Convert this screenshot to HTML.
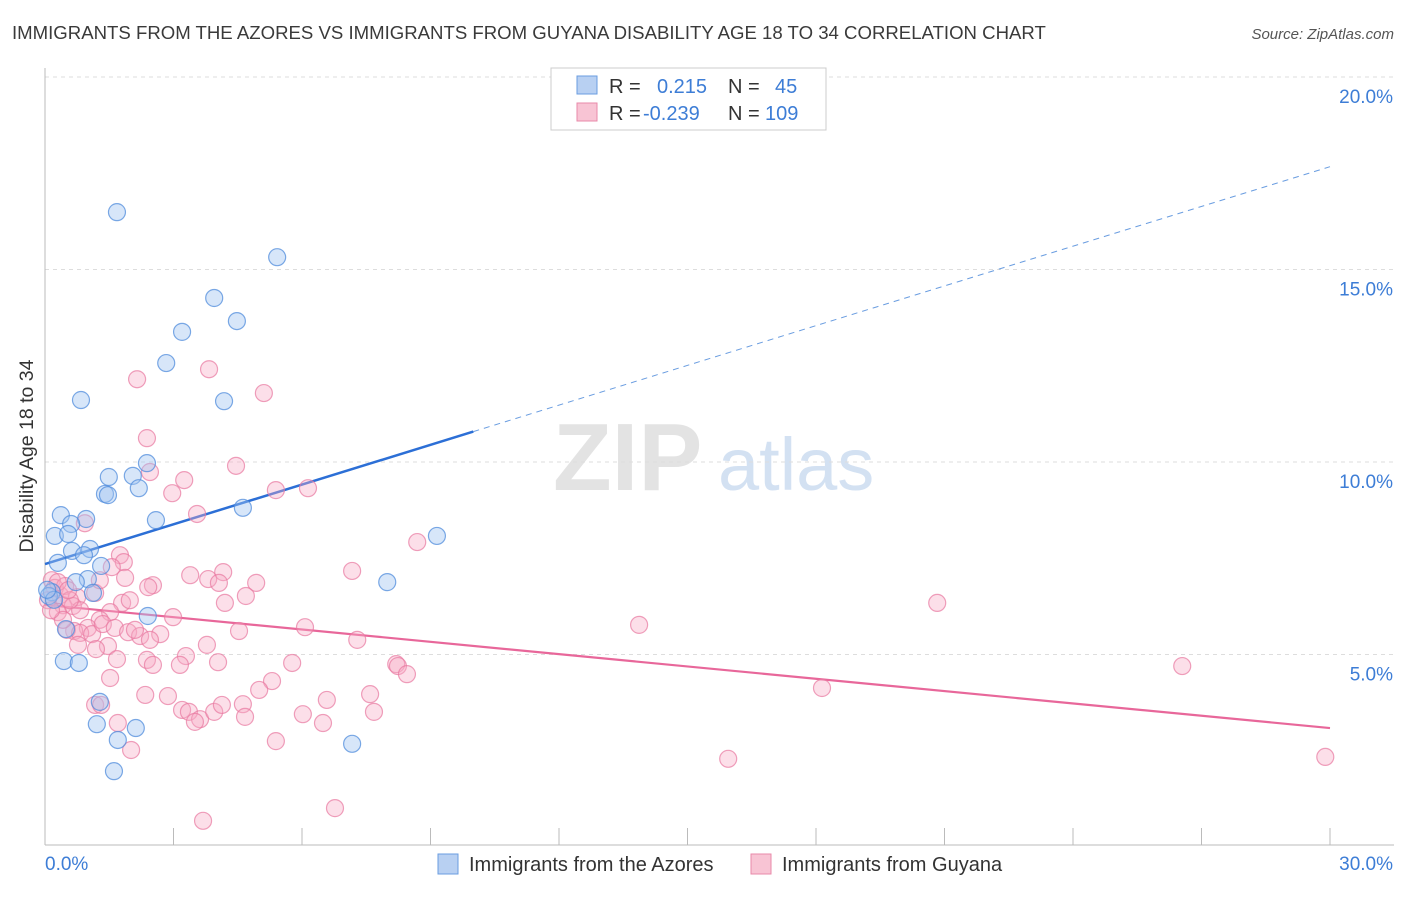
<!DOCTYPE html>
<html><head><meta charset="utf-8"><style>
body{margin:0;background:#fff;font-family:"Liberation Sans",sans-serif}
svg text{font-family:"Liberation Sans",sans-serif}
</style></head><body>
<svg id="chart" width="1406" height="892" xmlns="http://www.w3.org/2000/svg">
<text x="12" y="39" font-size="18.6" fill="#3a3a3a">IMMIGRANTS FROM THE AZORES VS IMMIGRANTS FROM GUYANA DISABILITY AGE 18 TO 34 CORRELATION CHART</text>
<text x="1394" y="39" font-size="15" fill="#555" font-style="italic" text-anchor="end">Source: ZipAtlas.com</text>
<g>
<text x="553" y="490" font-size="96" fill="#ddd" font-family="Liberation Serif" font-weight="bold" opacity="0.8">ZIP</text>
<text x="718" y="490" font-size="74" fill="#c9daf0" opacity="0.8">atlas</text>
</g>
<g id="grid"></g><g id="axes"></g><g id="lines"></g><g id="pts"></g>
<g>
<rect x="551" y="68" width="275" height="62" fill="#fff" stroke="#ccc"/>
<rect x="577" y="76" width="20" height="18" fill="#b8d0f2" stroke="#6a9de0"/>
<rect x="577" y="103" width="20" height="18" fill="#f8c4d4" stroke="#e88aaa"/>
<text x="609" y="93" font-size="20" fill="#333">R =</text>
<text x="657" y="93" font-size="20" fill="#3d7dd6">0.215</text>
<text x="728" y="93" font-size="20" fill="#333">N =</text>
<text x="775" y="93" font-size="20" fill="#3d7dd6">45</text>
<text x="609" y="120" font-size="20" fill="#333">R =</text>
<text x="643" y="120" font-size="20" fill="#3d7dd6">-0.239</text>
<text x="728" y="120" font-size="20" fill="#333">N =</text>
<text x="765" y="120" font-size="20" fill="#3d7dd6">109</text>
</g>
<g>
<rect x="438" y="854" width="20" height="20" fill="#b8d0f2" stroke="#6a9de0"/>
<text x="469" y="871" font-size="20" fill="#333">Immigrants from the Azores</text>
<rect x="751" y="854" width="20" height="20" fill="#f8c4d4" stroke="#e88aaa"/>
<text x="782" y="871" font-size="20" fill="#333">Immigrants from Guyana</text>
</g>
<text transform="translate(33,456) rotate(-90)" font-size="19.5" fill="#333" text-anchor="middle">Disability Age 18 to 34</text>
</svg>
<script>
const azoresX=[1.68,5.42,3.95,3.20,4.48,2.83,0.84,4.18,2.38,1.49,2.05,2.19,1.40,1.47,2.59,4.62,0.37,0.96,0.61,0.23,0.54,1.05,0.63,0.91,0.30,1.31,1.00,0.72,7.99,9.15,1.12,0.16,0.09,0.21,2.40,0.49,0.44,0.79,1.28,1.21,2.12,1.70,7.17,1.61,0.05];
const azoresY=[16.49,15.32,14.26,13.38,13.66,12.57,11.61,11.58,9.97,9.61,9.64,9.32,9.17,9.14,8.49,8.81,8.62,8.52,8.39,8.08,8.13,7.74,7.69,7.58,7.38,7.30,6.96,6.88,6.88,8.08,6.60,6.62,6.52,6.42,6.00,5.66,4.83,4.78,3.77,3.19,3.09,2.78,2.68,1.97,6.68];
const guyanaX=[2.15,3.83,5.11,2.38,4.46,2.45,3.25,2.97,5.39,6.14,3.55,0.93,8.69,1.75,1.84,1.56,1.87,7.17,3.39,2.52,3.81,4.16,4.06,4.93,2.41,4.69,1.80,4.20,1.17,0.75,0.35,0.16,0.23,0.47,0.07,0.42,0.65,0.30,0.82,1.52,1.28,1.00,0.68,0.51,0.82,1.10,1.35,1.63,1.94,2.22,2.99,1.47,0.77,1.68,1.19,2.38,3.29,3.78,4.53,6.07,7.29,13.87,20.83,1.52,3.15,4.04,5.77,8.20,8.24,8.45,5.30,5.00,2.34,2.87,1.17,1.31,3.20,3.36,3.62,3.50,3.95,4.13,4.62,4.67,6.02,6.58,6.49,7.59,7.68,1.70,2.01,5.39,15.95,18.14,26.55,29.89,6.77,3.69,2.52,2.10,2.69,0.42,0.30,0.58,1.28,1.98,0.14,0.54,2.45];
const guyanaY=[12.15,12.41,11.79,10.62,9.90,9.74,9.53,9.19,9.27,9.32,8.65,8.41,7.92,7.58,7.40,7.27,6.99,7.17,7.06,6.80,6.96,7.14,6.86,6.86,6.75,6.52,6.34,6.34,6.60,6.49,6.54,6.93,6.73,6.78,6.41,6.28,6.26,6.10,6.15,6.10,5.90,5.69,5.61,5.64,5.56,5.53,5.79,5.69,5.58,5.48,5.97,5.22,5.25,4.88,5.14,4.86,4.96,5.25,5.61,5.71,5.38,5.77,6.34,4.39,4.73,4.80,4.78,4.75,4.70,4.49,4.31,4.08,3.95,3.92,3.69,3.69,3.56,3.51,3.32,3.25,3.51,3.69,3.71,3.38,3.45,3.82,3.22,3.97,3.51,3.22,2.52,2.75,2.29,4.13,4.70,2.34,1.01,0.68,4.73,5.64,5.53,5.90,6.88,6.41,6.93,6.41,6.15,6.67,5.38];
const yTicks=[5,10,15,20];
const yTickLabels=["5.0%","10.0%","15.0%","20.0%"];
const azoresTrend=[7.35,0.344];
const guyanaTrend=[6.29,-0.1067];
const NS="http://www.w3.org/2000/svg";
const X=v=>45+v*1285/30, Y=v=>847-v*38.5;
function mk(tag,attrs,parent){const e=document.createElementNS(NS,tag);for(const k in attrs)e.setAttribute(k,attrs[k]);document.getElementById(parent).appendChild(e);return e;}
yTicks.forEach((t,i)=>{
 const g=mk('line',{x1:45,x2:1394,y1:Y(t),y2:Y(t),stroke:'#ddd','stroke-dasharray':'4,4'},'grid');
 
 
 const l=mk('text',{x:1393,y:Y(t)+26,'font-size':19,fill:'#3d7dd6','text-anchor':'end'},'grid');
 l.textContent=yTickLabels[i];
 
 
});
const ax=mk('line',{x1:45,x2:45,y1:68,y2:845,stroke:'#bbb'},'axes');


const bx=mk('line',{x1:45,x2:1394,y1:845,y2:845,stroke:'#bbb'},'axes');


for(let i=0;i<=10;i++){const t=mk('line',{x1:X(i*3),x2:X(i*3),y1:828,y2:845,stroke:'#bbb'},'axes');
 
 }
const x0=mk('text',{x:45,y:870,'font-size':19,fill:'#3d7dd6'},'axes');x0.textContent='0.0%';


const x1=mk('text',{x:1393,y:870,'font-size':19,fill:'#3d7dd6','text-anchor':'end'},'axes');x1.textContent='30.0%';


function pts(xs,ys,fill,stroke,name){xs.forEach((x,i)=>{const c=mk('circle',{cx:X(x),cy:Y(ys[i]),r:8.5,fill:fill,stroke:stroke,'stroke-width':1.2},'pts');
 
 });}
pts(guyanaX,guyanaY,'rgba(246,172,198,0.38)','rgba(232,120,160,0.7)','guyana-point');
pts(azoresX,azoresY,'rgba(160,196,240,0.42)','rgba(80,140,220,0.75)','azores-point');
const f=(t,x)=>t[0]+t[1]*x;
const b1=mk('line',{x1:X(0),y1:Y(f(azoresTrend,0)),x2:X(10),y2:Y(f(azoresTrend,10)),stroke:'#2c6fd6','stroke-width':2.5},'lines');


const b2=mk('line',{x1:X(10),y1:Y(f(azoresTrend,10)),x2:X(30),y2:Y(f(azoresTrend,30)),stroke:'#6a9de0','stroke-width':1,'stroke-dasharray':'6,5'},'lines');


const p1=mk('line',{x1:X(0),y1:Y(f(guyanaTrend,0)),x2:X(30),y2:Y(f(guyanaTrend,30)),stroke:'#e8679a','stroke-width':2.2},'lines');


</script>
</body></html>
